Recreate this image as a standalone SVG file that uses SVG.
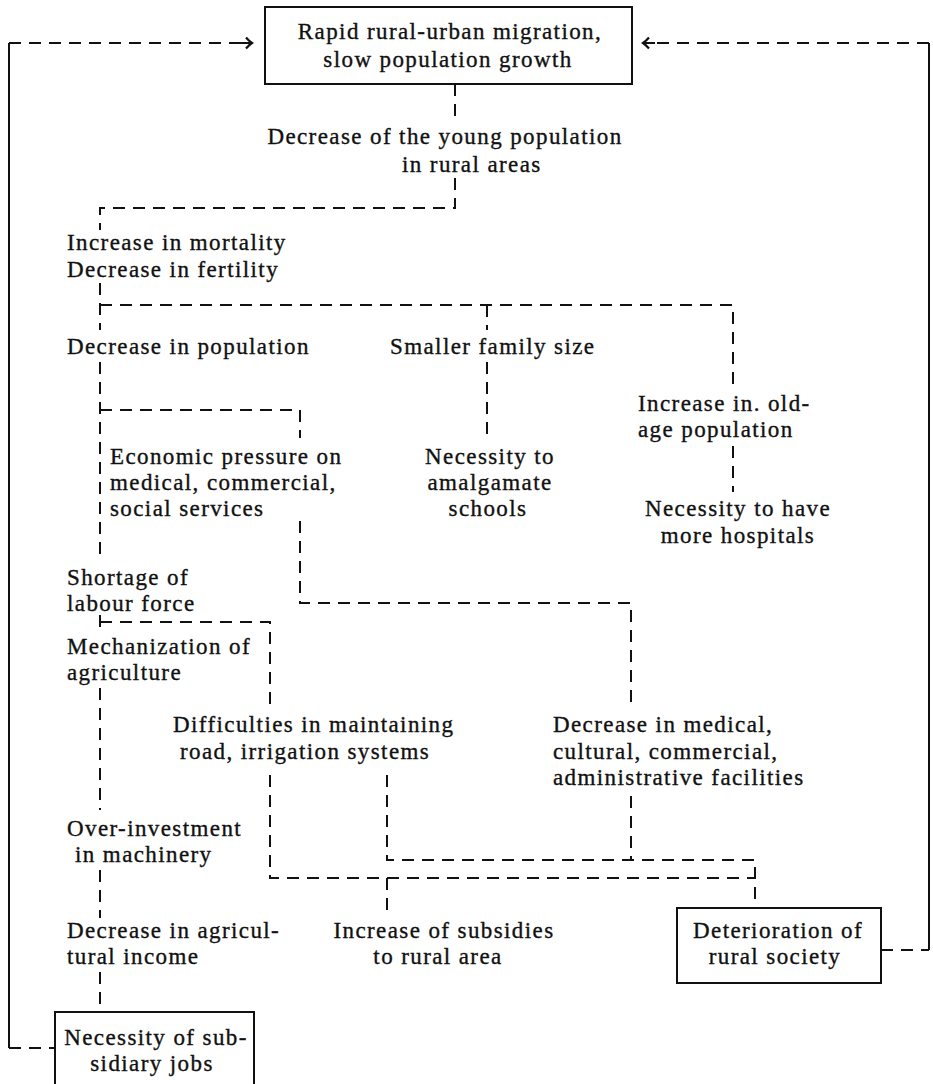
<svg xmlns="http://www.w3.org/2000/svg" width="933" height="1084" viewBox="0 0 933 1084">
<style>
text{font-family:"Liberation Serif","Times New Roman",serif;font-size:23px;fill:#111;stroke:#111;stroke-width:0.35px;letter-spacing:1.4px}
.c{text-anchor:middle}
.box{fill:#fff;stroke:#111;stroke-width:2}
.d{fill:none;stroke:#111;stroke-width:2;stroke-dasharray:12 8}
.s{fill:none;stroke:#111;stroke-width:2}
</style>
<defs>
<marker id="arr" markerWidth="14" markerHeight="14" refX="10" refY="7" orient="auto" markerUnits="userSpaceOnUse">
<path d="M0,7 H10 M4,1.5 Q7,5 10,7 Q7,9 4,12.5" fill="none" stroke="#111" stroke-width="2.2"/>
</marker>
</defs>
<rect width="933" height="1084" fill="#fff"/>
<g id="connectors">
<path class="s" d="M9,43 V1048"/>
<path class="d" d="M9,1048 H55"/>
<path class="d" d="M9,43 H240"/>
<path class="s" d="M240,43 H252" marker-end="url(#arr)"/>
<path class="s" d="M929,43 V950"/>
<path class="d" d="M881,950 H929"/>
<path class="d" d="M929,43 H655"/>
<path class="s" d="M655,43 H643" marker-end="url(#arr)"/>
<path class="d" d="M455,84 V120"/>
<path class="d" d="M455,178 V208 H100 V230"/>
<path class="d" d="M100,283 V330"/>
<path class="d" d="M100,305 H733 V392"/>
<path class="d" d="M487,305 V330"/>
<path class="d" d="M487,362 V440"/>
<path class="d" d="M733,446 V492"/>
<path class="d" d="M100,362 V562"/>
<path class="d" d="M100,410 H300 V438"/>
<path class="d" d="M300,521 V603 H631 V710"/>
<path class="d" d="M100,615 V634"/>
<path class="d" d="M100,622 H270 V708"/>
<path class="d" d="M100,688 V810"/>
<path class="d" d="M270,775 V878 H755"/>
<path class="d" d="M387,775 V860 H755 V908"/>
<path class="d" d="M631,796 V860"/>
<path class="d" d="M387,878 V916"/>
<path class="d" d="M100,870 V918"/>
<path class="d" d="M100,972 V1012"/>
</g>
<g id="n-migration">
<rect class="box" x="265" y="7" width="367" height="77"/>
<text class="c" x="450" y="39">Rapid rural-urban migration,</text>
<text class="c" x="448" y="67">slow population growth</text>
</g>
<g id="n-young">
<text class="c" x="445" y="144">Decrease of the young population</text>
<text x="402" y="172">in rural areas</text>
</g>
<g id="n-mortality">
<text x="67" y="250">Increase in mortality</text>
<text x="67" y="277">Decrease in fertility</text>
</g>
<g id="n-population">
<text x="67" y="354">Decrease in population</text>
</g>
<g id="n-family">
<text x="390" y="354">Smaller family size</text>
</g>
<g id="n-oldage">
<text x="638" y="411">Increase in. old-</text>
<text x="638" y="437">age population</text>
</g>
<g id="n-economic">
<text x="110" y="464">Economic pressure on</text>
<text x="110" y="490">medical, commercial,</text>
<text x="110" y="516">social services</text>
</g>
<g id="n-schools">
<text class="c" x="490" y="464">Necessity to</text>
<text class="c" x="490" y="490">amalgamate</text>
<text class="c" x="488" y="516">schools</text>
</g>
<g id="n-hospitals">
<text class="c" x="738" y="516">Necessity to have</text>
<text class="c" x="738" y="543">more hospitals</text>
</g>
<g id="n-labour">
<text x="67" y="585">Shortage of</text>
<text x="67" y="611">labour force</text>
</g>
<g id="n-mechanization">
<text x="67" y="654">Mechanization of</text>
<text x="67" y="680">agriculture</text>
</g>
<g id="n-roads">
<text x="173" y="732">Difficulties in maintaining</text>
<text x="180" y="759">road, irrigation systems</text>
</g>
<g id="n-facilities">
<text x="553" y="732">Decrease in medical,</text>
<text x="553" y="759">cultural, commercial,</text>
<text x="553" y="785">administrative facilities</text>
</g>
<g id="n-machinery">
<text x="67" y="836">Over-investment</text>
<text x="75" y="862">in machinery</text>
</g>
<g id="n-income">
<text x="67" y="938">Decrease in agricul-</text>
<text x="67" y="964">tural income</text>
</g>
<g id="n-subsidies">
<text class="c" x="444" y="938">Increase of subsidies</text>
<text class="c" x="438" y="964">to rural area</text>
</g>
<g id="n-deterioration">
<rect class="box" x="677" y="908" width="204" height="75"/>
<text class="c" x="778" y="938">Deterioration of</text>
<text class="c" x="775" y="964">rural society</text>
</g>
<g id="n-subsidiary">
<rect class="box" x="55" y="1012" width="199" height="80"/>
<text class="c" x="156" y="1045">Necessity of sub-</text>
<text class="c" x="152" y="1071">sidiary jobs</text>
</g>
</svg>
